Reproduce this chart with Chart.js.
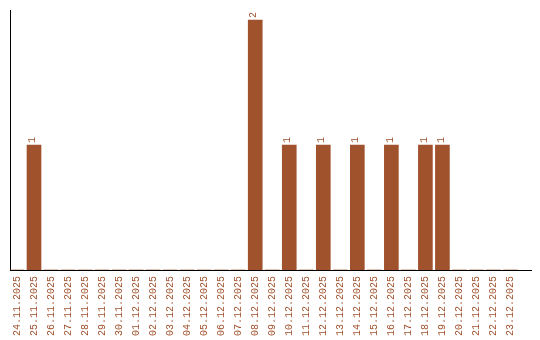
<!DOCTYPE html>
<html><head><meta charset="utf-8">
<script src="https://cdn.jsdelivr.net/npm/chart.js@4.4.1/dist/chart.umd.min.js"></script>
<style>html,body{margin:0;padding:0;background:#fff}#wrap{width:540px;height:340px}</style>
</head><body><div id="wrap"><canvas id="c" width="540" height="340"></canvas></div>
<script>
const categories = ["24.11.2025","25.11.2025","26.11.2025","27.11.2025","28.11.2025","29.11.2025","30.11.2025","01.12.2025","02.12.2025","03.12.2025","04.12.2025","05.12.2025","06.12.2025","07.12.2025","08.12.2025","09.12.2025","10.12.2025","11.12.2025","12.12.2025","13.12.2025","14.12.2025","15.12.2025","16.12.2025","17.12.2025","18.12.2025","19.12.2025","20.12.2025","21.12.2025","22.12.2025","23.12.2025"];
const values = [0,1,0,0,0,0,0,0,0,0,0,0,0,0,2,0,1,0,1,0,1,0,1,0,1,1,0,0,0,0];
const barColor = "#A0522D";
const FONT = "'Liberation Mono', 'DejaVu Sans Mono', monospace";

const valueLabels = {
  id: 'valueLabels',
  afterDatasetsDraw(chart) {
    const ctx = chart.ctx;
    const meta = chart.getDatasetMeta(0);
    ctx.save();
    ctx.fillStyle = barColor;
    ctx.font = "10px " + FONT;
    ctx.textAlign = 'left';
    ctx.textBaseline = 'middle';
    meta.data.forEach((el, i) => {
      if (!values[i]) return;
      ctx.save();
      ctx.translate(el.x - 1.5, el.y - 2);
      ctx.rotate(-Math.PI / 2);
      ctx.fillText(String(values[i]), 0, 0);
      ctx.restore();
    });
    ctx.restore();
  }
};

new Chart(document.getElementById('c'), {
  type: 'bar',
  data: {
    datasets: [{
      data: values.map((v, i) => ({x: i, y: v})),
      backgroundColor: barColor,
      borderWidth: 0,
      barThickness: 14
    }]
  },
  options: {
    responsive: false,
    animation: false,
    layout: {padding: {left: 10, right: 9, top: 10, bottom: 0}},
    plugins: {legend: {display: false}, tooltip: {enabled: false}},
    scales: {
      x: {
        type: 'linear',
        min: -0.411,
        max: 30.206,
        offset: false,
        grid: {display: false, drawTicks: false},
        border: {display: true, color: '#000', width: 1},
        afterBuildTicks(scale) {
          scale.ticks = categories.map((c, i) => ({value: i}));
        },
        afterFit(scale) { scale.height = 70; },
        ticks: {
          autoSkip: false,
          maxRotation: 90,
          minRotation: 90,
          padding: 6,
          color: barColor,
          font: {family: FONT, size: 10},
          callback: (v) => categories[v] !== undefined ? categories[v] : ''
        }
      },
      y: {
        min: 0,
        max: 2.08,
        grid: {display: false, drawTicks: false},
        border: {display: true, color: '#000', width: 1},
        ticks: {display: false},
        afterFit(scale) { scale.width = 0; }
      }
    }
  },
  plugins: [valueLabels]
});
</script>
</body></html>
